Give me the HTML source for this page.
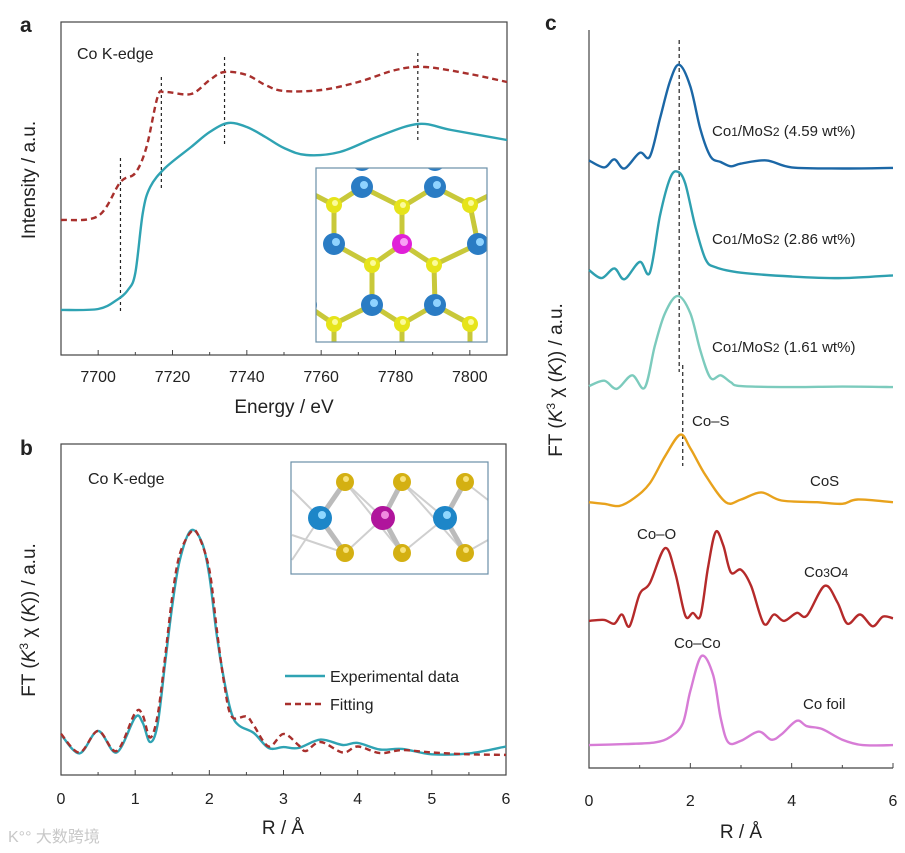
<!DOCTYPE html>
<html><head><meta charset="utf-8">
<style>
body{margin:0;background:#fff;}
svg{display:block;font-family:"Liberation Sans","Noto Sans CJK SC",sans-serif;}
text{fill:#222}
</style></head>
<body>
<svg id="fig" width="905" height="853" viewBox="0 0 905 853" xmlns="http://www.w3.org/2000/svg">
<rect width="905" height="853" fill="#fff"/>
<g id="pa"></g>
<g id="pb"></g>
<g id="pc"></g>
<text x="8" y="842" font-size="16" style="fill:#c8c8c8">K°° 大数跨境</text>
</svg>
<script>
// ---------- Panel a data (XANES) ----------
const aEnergyRed = [7690,7700,7706,7710,7713,7716,7718,7725,7730,7734,7740,7745,7750,7760,7770,7780,7788,7800,7810];
const aRed = [1.35,1.39,1.73,1.82,2.08,2.58,2.63,2.61,2.75,2.83,2.80,2.70,2.64,2.65,2.73,2.85,2.88,2.81,2.73];
const aEnergyCyan = [7690,7700,7705,7708,7710,7712,7714,7718,7725,7730,7735,7740,7745,7750,7756,7765,7775,7786,7795,7810];
const aCyan = [0.45,0.46,0.55,0.65,0.82,1.42,1.68,1.87,2.08,2.23,2.32,2.28,2.18,2.07,2.00,2.03,2.18,2.31,2.25,2.15];
const aMarkers = [7706,7717,7734,7786];
const aTicks = [7700,7720,7740,7760,7780,7800];
// ---------- Panel b data (FT-EXAFS) ----------
const bR = [0,0.25,0.5,0.75,1.0,1.1,1.2,1.3,1.4,1.5,1.6,1.75,1.9,2.0,2.1,2.2,2.3,2.4,2.6,2.8,3.0,3.2,3.5,3.8,4.0,4.3,4.6,5.0,5.5,6.0];
const bExp = [1.35,0.72,1.47,0.75,1.92,1.75,1.10,1.65,3.65,5.65,7.15,8.15,7.75,6.65,4.65,3.15,2.05,1.65,1.40,0.90,0.93,0.90,1.18,1.00,1.07,0.85,0.87,0.69,0.72,0.95];
const bRFit = [0,0.25,0.5,0.75,1.0,1.1,1.2,1.3,1.4,1.5,1.6,1.75,1.85,2.0,2.1,2.2,2.3,2.5,2.6,2.8,3.0,3.2,3.3,3.5,3.8,4.0,4.3,4.6,5.0,5.5,6.0];
const bFit = [1.37,0.75,1.47,0.80,2.07,2.00,1.25,1.95,3.85,5.95,7.35,8.10,8.00,6.85,4.85,3.05,1.95,1.95,1.65,0.95,1.37,1.00,0.80,1.10,0.75,0.95,0.73,0.83,0.75,0.69,0.67];
const bTicks = [0,1,2,3,4,5,6];
// ---------- Panel c data (stacked a.u.) ----------
const cR459 = [0,0.3,0.5,0.7,1.0,1.2,1.4,1.6,1.78,2.0,2.2,2.4,2.6,2.8,3.0,3.5,4.0,5.0,6.0];
const c459 = [18.96,18.26,19.07,18.15,19.72,19.34,23.12,26.90,28.52,26.36,22.04,19.34,18.80,18.37,18.64,18.96,18.26,18.15,18.21];
const cR286 = [0,0.25,0.5,0.7,1.0,1.2,1.4,1.6,1.75,1.9,2.1,2.3,2.5,3.0,4.0,5.0,6.0];
const c286 = [8.00,7.19,8.16,7.08,8.81,7.73,13.40,17.18,17.83,16.64,12.32,9.08,8.27,7.73,7.35,7.19,7.46];
const cR161 = [0,0.3,0.55,0.85,1.1,1.3,1.5,1.75,2.0,2.2,2.4,2.6,2.8,3.0,4.0,5.0,6.0];
const c161 = [-3.61,-3.07,-3.88,-2.53,-3.77,0.44,3.68,5.41,3.68,-0.10,-2.80,-2.53,-3.23,-3.61,-3.71,-3.66,-3.71];
const cRCoS = [0,0.3,0.6,0.9,1.2,1.5,1.8,2.0,2.3,2.7,3.0,3.4,3.8,4.5,5.0,5.3,6.0];
const cCoS = [-15.22,-15.38,-15.59,-14.78,-13.33,-10.63,-8.47,-9.82,-12.52,-15.22,-14.95,-14.24,-15.05,-15.22,-15.38,-14.95,-15.22];
const cRCo3O4 = [0,0.3,0.5,0.65,0.8,1.0,1.2,1.5,1.7,1.9,2.05,2.2,2.35,2.5,2.65,2.8,3.0,3.2,3.45,3.65,3.85,4.1,4.3,4.65,4.9,5.1,5.35,5.6,5.8,6.0];
const cCo3O4 = [-27.09,-26.99,-27.37,-26.45,-27.63,-24.40,-23.32,-19.81,-22.24,-26.56,-26.29,-26.56,-21.70,-18.19,-19.54,-22.24,-21.97,-23.59,-27.37,-26.45,-27.09,-26.29,-26.56,-23.59,-25.21,-27.37,-26.45,-27.63,-26.66,-26.83];
const cRFoil = [0,0.7,1.3,1.6,1.85,2.0,2.22,2.45,2.6,2.75,3.0,3.35,3.6,3.8,4.1,4.3,4.6,5.0,5.4,6.0];
const cFoil = [-39.51,-39.41,-39.24,-38.70,-37.35,-34.11,-30.60,-32.49,-36.81,-39.24,-39.08,-38.16,-38.97,-38.43,-37.08,-37.62,-37.90,-38.97,-39.51,-39.51];
const cTicks = [0,2,4,6];
const cMarkers = [1.78,1.85];

const NS="http://www.w3.org/2000/svg";
function mk(parent,tag,attrs,txt){const e=document.createElementNS(NS,tag);for(const k in attrs)e.setAttribute(k,attrs[k]);if(txt!==undefined)e.textContent=txt;parent.appendChild(e);return e;}
function lin(d0,d1,r0,r1){return v=>r0+(v-d0)*(r1-r0)/(d1-d0);}
function smooth(xs,ys,sx,sy){
  const p=xs.map((x,i)=>[sx(x),sy(ys[i])]);
  let d="M"+p[0][0].toFixed(1)+","+p[0][1].toFixed(1);
  for(let i=0;i<p.length-1;i++){
    const p0=p[Math.max(0,i-1)],p1=p[i],p2=p[i+1],p3=p[Math.min(p.length-1,i+2)];
    const c1=[p1[0]+(p2[0]-p0[0])/6,p1[1]+(p2[1]-p0[1])/6];
    const c2=[p2[0]-(p3[0]-p1[0])/6,p2[1]-(p3[1]-p1[1])/6];
    d+=" C"+c1[0].toFixed(1)+","+c1[1].toFixed(1)+" "+c2[0].toFixed(1)+","+c2[1].toFixed(1)+" "+p2[0].toFixed(1)+","+p2[1].toFixed(1);
  }
  return d;
}

// ================= PANEL A =================
(function(){
const g=document.getElementById('pa');
const L=61,R=507,T=22,B=355;
const sx=lin(7690,7810,L,R), sy=lin(0,3.33,B,T);
let t=mk(g,'text',{x:20,y:32,'font-size':21,'font-weight':'bold'},'a');


let box=mk(g,'rect',{x:L,y:T,width:R-L,height:B-T,fill:'none',stroke:'#444','stroke-width':1.2});


for(let v=7690;v<=7810;v+=10){
  const tk=mk(g,'line',{x1:sx(v),x2:sx(v),y1:B,y2:B-(v%20===0?5:3),stroke:'#444'});
  
  
}
aTicks.forEach(v=>{
  const e=mk(g,'text',{x:sx(v),y:382,'text-anchor':'middle','font-size':16},v);
  
  
});
t=mk(g,'text',{x:284,y:413,'text-anchor':'middle','font-size':19},'Energy / eV');


t=mk(g,'text',{x:0,y:0,'text-anchor':'middle','font-size':19,transform:'translate(35,180) rotate(-90)'},'Intensity / a.u.');


t=mk(g,'text',{x:77,y:59,'font-size':16},'Co K-edge');


const mTop=[158,77,57,53], mBot=[313,190,145,140];
aMarkers.forEach((v,i)=>{
  const l=mk(g,'line',{x1:sx(v),x2:sx(v),y1:mTop[i],y2:mBot[i],stroke:'#222','stroke-dasharray':'3,3','stroke-width':1.2});
  
  
});
let p=mk(g,'path',{d:smooth(aEnergyRed,aRed,sx,sy),fill:'none',stroke:'#a8302d','stroke-width':2.4,'stroke-dasharray':'6,4'});


p=mk(g,'path',{d:smooth(aEnergyCyan,aCyan,sx,sy),fill:'none',stroke:'#2fa3b3','stroke-width':2.4});


const ins=mk(g,'g',{});


const cp=mk(ins,'clipPath',{id:'ca'});
mk(cp,'rect',{x:316,y:168,width:171,height:174});
const ig=mk(ins,'g',{'clip-path':'url(#ca)'});
mk(ig,'rect',{x:316,y:168,width:171,height:174,fill:'#fff'});
const blue=[[362,187],[435,187],[334,244],[478,244],[372,305],[435,305],[362,160],[435,160],[306,305],[500,305]];
const yel=[[334,205],[402,207],[470,205],[372,265],[434,265],[334,324],[402,324],[470,324]];
const pink=[402,244];
function bond(a,b){mk(ig,'line',{x1:a[0],y1:a[1],x2:b[0],y2:b[1],stroke:'#c8c83a','stroke-width':5});}
[[0,0],[0,1],[1,1],[1,2],[2,0],[3,2],[2,3],[3,4],[4,3],[4,5],[5,4],[5,6],[5,7],[4,6],[8,5]].forEach(([bi,yi])=>bond(blue[bi],yel[yi]));
mk(ig,'line',{x1:334,y1:205,x2:305,y2:190,stroke:'#c8c83a','stroke-width':5});
mk(ig,'line',{x1:470,y1:205,x2:500,y2:190,stroke:'#c8c83a','stroke-width':5});
mk(ig,'line',{x1:402,y1:324,x2:402,y2:345,stroke:'#c8c83a','stroke-width':5});
mk(ig,'line',{x1:334,y1:324,x2:334,y2:345,stroke:'#c8c83a','stroke-width':5});
mk(ig,'line',{x1:470,y1:324,x2:470,y2:345,stroke:'#c8c83a','stroke-width':5});
[[402,207],[372,265],[434,265]].forEach(s=>mk(ig,'line',{x1:pink[0],y1:pink[1],x2:s[0],y2:s[1],stroke:'#c8c83a','stroke-width':5}));
blue.forEach(b=>{mk(ig,'circle',{cx:b[0],cy:b[1],r:11,fill:'#2a7cc4'});mk(ig,'circle',{cx:b[0]+2,cy:b[1]-2,r:4,fill:'#8fd3ff'});});
yel.forEach(s=>{mk(ig,'circle',{cx:s[0],cy:s[1],r:8,fill:'#e6e41a'});mk(ig,'circle',{cx:s[0]+1,cy:s[1]-2,r:3,fill:'#fbfb9a'});});
mk(ig,'circle',{cx:pink[0],cy:pink[1],r:10,fill:'#e020d8'});
mk(ig,'circle',{cx:pink[0]+2,cy:pink[1]-2,r:4,fill:'#f8a0f5'});
mk(ins,'rect',{x:316,y:168,width:171,height:174,fill:'none',stroke:'#6a8fa8','stroke-width':1.2});
})();

// ================= PANEL B =================
(function(){
const g=document.getElementById('pb');
const L=61,R=506,T=444,B=775;
const sx=lin(0,6,L,R), sy=lin(0,10,B,B-300);
let t=mk(g,'text',{x:20,y:455,'font-size':21,'font-weight':'bold'},'b');


let box=mk(g,'rect',{x:L,y:T,width:R-L,height:B-T,fill:'none',stroke:'#444','stroke-width':1.2});


for(let v=0;v<=6;v+=0.5){
  const tk=mk(g,'line',{x1:sx(v),x2:sx(v),y1:B,y2:B-(v%1===0?5:3),stroke:'#444'});
  
  
}
bTicks.forEach(v=>{
  const e=mk(g,'text',{x:sx(v),y:804,'text-anchor':'middle','font-size':16},v);
  
  
});
t=mk(g,'text',{x:283,y:834,'text-anchor':'middle','font-size':19},'R / Å');


t=mk(g,'text',{x:0,y:0,'text-anchor':'middle','font-size':19,transform:'translate(35,620) rotate(-90)'});


t.innerHTML='FT (<tspan font-style="italic">K</tspan><tspan font-size="12" dy="-7">3</tspan><tspan dy="7"> χ (</tspan><tspan font-style="italic">K</tspan>)) / a.u.';
t=mk(g,'text',{x:88,y:484,'font-size':16},'Co K-edge');


let p=mk(g,'path',{d:smooth(bR,bExp,sx,sy),fill:'none',stroke:'#2fa3b3','stroke-width':2.4});


p=mk(g,'path',{d:smooth(bRFit,bFit,sx,sy),fill:'none',stroke:'#a8302d','stroke-width':2.4,'stroke-dasharray':'6,4'});


let l=mk(g,'line',{x1:285,x2:325,y1:676,y2:676,stroke:'#2fa3b3','stroke-width':2.4});


t=mk(g,'text',{x:330,y:682,'font-size':16},'Experimental data');


l=mk(g,'line',{x1:285,x2:325,y1:704,y2:704,stroke:'#a8302d','stroke-width':2.4,'stroke-dasharray':'6,4'});


t=mk(g,'text',{x:330,y:710,'font-size':16},'Fitting');


const ins=mk(g,'g',{});


mk(ins,'rect',{x:291,y:462,width:197,height:112,fill:'#fff'});
const Y=[[345,482],[402,482],[465,482],[345,553],[402,553],[465,553]];
const M=[[320,518],[383,518],[445,518]];
[[292,490,320,518],[292,560,320,518],[345,482,383,518],[345,553,383,518],[402,482,445,518],[402,553,445,518],[465,482,488,500],[465,553,488,540],[345,482,402,553],[402,482,465,553],[292,535,345,553]].forEach(b=>mk(ins,'line',{x1:b[0],y1:b[1],x2:b[2],y2:b[3],stroke:'#cfcfcf','stroke-width':2}));
M.forEach((m,i)=>{[Y[i],Y[i+3]].forEach(s=>mk(ins,'line',{x1:m[0],y1:m[1],x2:s[0],y2:s[1],stroke:'#bbb','stroke-width':5}));});
Y.forEach(s=>{mk(ins,'circle',{cx:s[0],cy:s[1],r:9,fill:'#d4b012'});mk(ins,'circle',{cx:s[0]+1,cy:s[1]-3,r:3,fill:'#f7e27a'});});
M.forEach((m,i)=>{mk(ins,'circle',{cx:m[0],cy:m[1],r:12,fill:i===1?'#b0149c':'#1d86c8'});mk(ins,'circle',{cx:m[0]+2,cy:m[1]-3,r:4,fill:i===1?'#f08ae0':'#8fd8ff'});});
mk(ins,'rect',{x:291,y:462,width:197,height:112,fill:'none',stroke:'#6a8fa8','stroke-width':1.2});
})();

// ================= PANEL C =================
(function(){
const g=document.getElementById('pc');
const L=589,R=893,T=30,B=768;
const sx=lin(0,6,L,R), sy=lin(0,1,350,340);
let t=mk(g,'text',{x:545,y:30,'font-size':21,'font-weight':'bold'},'c');


let ax=mk(g,'path',{d:`M${L},${T} V${B} H${R}`,fill:'none',stroke:'#444','stroke-width':1.2});


for(let v=0;v<=6;v+=1){
  const tk=mk(g,'line',{x1:sx(v),x2:sx(v),y1:B,y2:B-(v%2===0?5:3),stroke:'#444'});
  
  
}
cTicks.forEach(v=>{
  const e=mk(g,'text',{x:sx(v),y:806,'text-anchor':'middle','font-size':16},v);
  
  
});
t=mk(g,'text',{x:741,y:838,'text-anchor':'middle','font-size':19},'R / Å');


t=mk(g,'text',{x:0,y:0,'text-anchor':'middle','font-size':19,transform:'translate(562,380) rotate(-90)'});


t.innerHTML='FT (<tspan font-style="italic">K</tspan><tspan font-size="12" dy="-7">3</tspan><tspan dy="7"> χ (</tspan><tspan font-style="italic">K</tspan>)) / a.u.';
const mt=[40,365], mb=[372,466];
cMarkers.forEach((v,i)=>{
  const l=mk(g,'line',{x1:sx(v),x2:sx(v),y1:mt[i],y2:mb[i],stroke:'#222','stroke-dasharray':'4,3','stroke-width':1.2});
  
  
});
const series=[[cR459,c459,'#1b67a6','curve-4-59-wt'],[cR286,c286,'#2ea0b0','curve-2-86-wt'],[cR161,c161,'#7ccbbd','curve-1-61-wt'],[cRCoS,cCoS,'#e8a21c','curve-cos'],[cRCo3O4,cCo3O4,'#b52a2a','curve-co3o4'],[cRFoil,cFoil,'#d77cd6','curve-co-foil']];
series.forEach(s=>{
  const p=mk(g,'path',{d:smooth(s[0],s[1],sx,sy),fill:'none',stroke:s[2],'stroke-width':2.4});
  
  
});
const labels=[[712,136,'Co<tspan font-size="12">1</tspan>/MoS<tspan font-size="12">2</tspan> (4.59 wt%)','label-4-59-wt'],[712,244,'Co<tspan font-size="12">1</tspan>/MoS<tspan font-size="12">2</tspan> (2.86 wt%)','label-2-86-wt'],[712,352,'Co<tspan font-size="12">1</tspan>/MoS<tspan font-size="12">2</tspan> (1.61 wt%)','label-1-61-wt'],[692,426,'Co–S','label-co-s'],[810,486,'CoS','label-cos'],[637,539,'Co–O','label-co-o'],[804,577,'Co<tspan font-size="12">3</tspan>O<tspan font-size="12">4</tspan>','label-co3o4'],[674,648,'Co–Co','label-co-co'],[803,709,'Co foil','label-co-foil']];
labels.forEach(l=>{
  const e=mk(g,'text',{x:l[0],y:l[1],'font-size':15});
  e.innerHTML=l[2];
  
  
});
})();
</script>
</body></html>
